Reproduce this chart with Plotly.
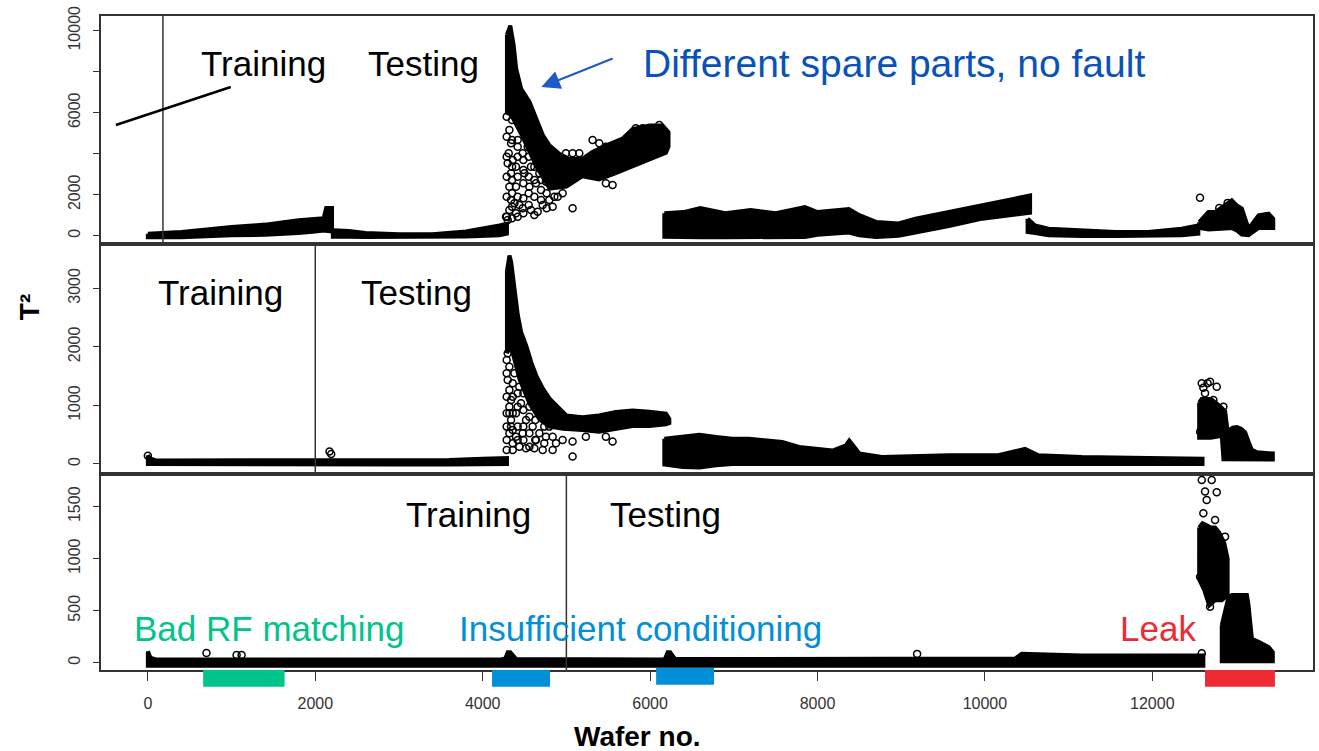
import plotly.graph_objects as go
from plotly.subplots import make_subplots

# ---------------- data ----------------
# x = wafer number, y = T^2.  Dense bands are given as upper/lower envelopes.
# TOP panel
top_a_x = [0, 400, 1000, 1400, 1800, 2000, 2100, 2130, 2200]
top_a_hi = [100, 180, 420, 540, 750, 830, 850, 1350, 1350]
top_a_lo = [-80, -80, 20, 40, 130, 200, 250, 250, 200]

top_b_x = [2210, 2400, 2600, 3000, 3400, 3800, 4200, 4290]
top_b_hi = [260, 230, 130, 65, 65, 210, 500, 580]
top_b_lo = [-50, -50, -60, -60, -60, -40, 20, 100]

top_c_ux = [4290, 4330, 4370, 4400, 4460, 4560, 4640, 4720, 4800, 4915, 5030, 5190, 5310, 5470, 5670, 5790, 5990, 6150, 6220]
top_c_uy = [9800, 10250, 9300, 8150, 7170, 6520, 5700, 4900, 4400, 4000, 3750, 3750, 4080, 4400, 4730, 5200, 5380, 5380, 5050]
top_c_lx = [4290, 4340, 4480, 4640, 4800, 5000, 5190, 5390, 5590, 5790, 5990, 6190, 6220]
top_c_ly = [6000, 5900, 4800, 3400, 2300, 2400, 2900, 2750, 3050, 3400, 3700, 4050, 4350]

top_d_x = [6170, 6400, 6600, 6900, 7200, 7500, 7850, 8000, 8375, 8500, 8700, 8970, 9170, 9570, 9970, 10280, 10540]
top_d_hi = [1100, 1150, 1350, 1100, 1250, 1100, 1400, 1150, 1300, 1000, 670, 600, 830, 1150, 1480, 1720, 1960]
top_d_lo = [-50, -80, -80, -80, -80, -80, -60, 50, 150, 20, -60, 0, 180, 470, 830, 990, 1120]

top_e_x = [10510, 10600, 10760, 11160, 11560, 11950, 12350, 12550]
top_e_hi = [830, 500, 340, 260, 180, 180, 340, 500]
top_e_lo = [180, 130, 20, -20, -20, -20, 20, 100]

top_f_x = [12560, 12670, 12750, 12870, 12950, 13010, 13070, 13110, 13150, 13270, 13390, 13445]
top_f_hi = [660, 1150, 1150, 1480, 1720, 1480, 1320, 830, 340, 990, 1070, 830]
top_f_lo = [380, 300, 300, 350, 380, 250, 50, 20, 20, 380, 380, 380]

top_pts_x = [4331, 4319, 4339, 4311, 4359, 4299, 4398, 4339, 4319, 4398, 4339, 4379, 4438, 4319, 4398,
             4478, 4577, 4657, 4717, 4796, 4836, 4896, 5074, 4558, 4637, 4498, 4577, 4677, 4756, 4796,
             4478, 4538, 4418, 4458, 4518, 4637, 4717, 4995, 5074, 5154, 5472, 5552, 5313, 5393, 5472,
             5830, 5910, 6109, 4279, 4299, 12570, 12800, 12900,
             4287, 4287, 4287, 4287, 4287, 4287, 4351, 4351, 4351, 4351, 4351, 4351, 4351,
             4418, 4418, 4418, 4418, 4418, 4486, 4486, 4486, 4486, 4486, 4550, 4550, 4550, 4550,
             4617, 4617, 4617, 4617, 4697, 4697, 4697, 4764, 4764, 4856, 4955]
top_pts_y = [6131, 5156, 4505, 4017, 3692, 3530, 3367, 3042, 2391, 2391, 1741, 1578, 1497, 1253, 1091,
             1335, 1253, 1172, 1497, 1741, 1416, 1904, 1335, 2391, 2554, 3042, 3367, 3042, 2636, 3205,
             4017, 4343, 4668, 5318, 5156, 3855, 3692, 4017, 4017, 4017, 2554, 2473, 4668, 4505, 4343,
             5237, 5237, 5400, 928, 766, 1855, 1350, 1600,
             5806, 4830, 3855, 2879, 1904, 928, 5643, 4668, 3367, 2717, 2066, 1416, 847,
             4343, 3855, 2879, 1904, 928, 3692, 3205, 2554, 1822, 1091, 3855, 2879, 2066, 1497,
             3367, 2717, 1904, 1010, 2717, 2229, 1741, 2066, 1335, 1904, 2066]

# MIDDLE panel
mid_a_x = [0, 30, 100, 1000, 2000, 2150, 2200, 3000, 3600, 4000, 4290]
mid_a_hi = [150, 90, 60, 60, 60, 60, 60, 60, 70, 90, 100]
mid_a_lo = [0, -10, -10, -10, -10, -10, -10, -10, -10, -10, 0]

mid_b_ux = [4290, 4320, 4340, 4380, 4420, 4460, 4520, 4580, 4640, 4720, 4800, 4880, 4960, 5000, 5190, 5390, 5590, 5790, 5990, 6190, 6230]
mid_b_uy = [3300, 3560, 3450, 2990, 2540, 2250, 2020, 1740, 1510, 1285, 1115, 1000, 890, 830, 800, 830, 890, 915, 890, 860, 770]
mid_b_lx = [4290, 4340, 4440, 4560, 4680, 4800, 4960, 5190, 5390, 5590, 5790, 5990, 6190, 6230]
mid_b_ly = [1900, 2000, 1450, 1030, 760, 640, 600, 580, 550, 600, 650, 650, 680, 700]

mid_c_x = [6170, 6390, 6590, 6790, 6980, 7180, 7380, 7580, 7780, 7980, 8180, 8340, 8380, 8420, 8500, 8770, 9570, 10160, 10480, 10640, 11160, 11950, 12600]
mid_c_hi = [430, 460, 500, 460, 430, 430, 400, 375, 290, 260, 230, 320, 400, 330, 180, 120, 150, 150, 260, 150, 120, 100, 90]
mid_c_lo = [-10, -50, -60, -20, 0, 0, 0, 0, 0, 0, 0, 0, 0, 0, 0, 0, 0, 0, 0, 0, 0, 0, 0]

mid_d_ux = [12560, 12590, 12700, 12800, 12870, 12900, 12960, 13010, 13060, 13110, 13150, 13190, 13250, 13350, 13440]
mid_d_uy = [1050, 1110, 1110, 1000, 900, 560, 620, 630, 600, 540, 380, 240, 200, 190, 180]
mid_d_lx = [12560, 12700, 12830, 12850, 12900, 13000, 13100, 13200, 13300, 13440]
mid_d_ly = [450, 450, 480, 80, 75, 75, 75, 75, 75, 75]

mid_pts_x = [0, 2170, 2190, 4299, 4319, 4299, 4319, 4339, 4319, 4339, 4319, 4359, 4438, 4518, 4617, 4717,
             4836, 4876, 5074, 5074, 4398, 4458, 4558, 4518, 4597, 4677, 4756, 4796, 4438, 4498, 4379,
             5552, 5472, 5233, 4319, 4339, 4398, 4478, 4637,
             12571, 12591, 12690, 12770, 12630, 12730, 12849, 12610, 12660,
             4287, 4287, 4287, 4287, 4287, 4287, 4287, 4359, 4359, 4359, 4359, 4359,
             4418, 4418, 4418, 4418, 4486, 4486, 4486, 4486, 4558, 4558, 4558,
             4629, 4629, 4736, 4736, 4836, 4955]
mid_pts_y = [140, 215, 170, 1889, 1662, 1434, 1264, 1093, 979, 751, 524, 353, 296, 268, 268, 239,
             239, 353, 382, 126, 865, 1036, 979, 751, 638, 524, 467, 638, 1320, 1434, 1548,
             382, 467, 467, 865, 638, 467, 524, 410,
             552, 1377, 1406, 1320, 1207, 1093, 979, 1300, 1380,
             1776, 1548, 1150, 865, 638, 410, 239, 1377, 1150, 865, 581, 239,
             1207, 979, 638, 410, 1207, 922, 638, 410, 808, 524, 296,
             751, 410, 638, 353, 467, 410]

# BOTTOM panel
bot_a_x = [0, 30, 100, 4200, 4270, 4300, 4330, 4400, 6150, 6180, 6210, 6240, 6300, 10360, 10440, 11160, 12610]
bot_a_hi = [110, 50, 30, 30, 40, 100, 100, 35, 30, 40, 100, 100, 35, 40, 85, 70, 70]
bot_a_lo = [-30, -30, -30, -30, -30, -30, -30, -30, -30, -30, -30, -30, -30, -30, -30, -30, -30]

bot_b_ux = [12560, 12600, 12650, 12700, 12750, 12800, 12860, 12900]
bot_b_uy = [1300, 1340, 1320, 1300, 1300, 1250, 1150, 1000]
bot_b_lx = [12560, 12620, 12680, 12750, 12830, 12900]
bot_b_ly = [800, 700, 550, 600, 600, 650]

bot_c_ux = [12830, 12860, 12910, 12950, 13130, 13150, 13190, 13270, 13390, 13440]
bot_c_uy = [360, 450, 630, 650, 650, 550, 230, 200, 150, 100]
bot_c_lx = [12830, 13440]
bot_c_ly = [15, 15]

bot_pts_x = [700, 1060, 1120, 9190, 12591, 12591, 12710, 12630, 12770, 12650, 12610, 12750, 12869, 12571, 12670, 12690, 12591]
bot_pts_y = [93, 74, 74, 85, 90, 1757, 1757, 1645, 1638, 1564, 1436, 1372, 1212, 827, 715, 539, 988]

# separators between training and testing data
split_top, split_mid, split_bot = 180, 2000, 5000

x_ticks = [0, 2000, 4000, 6000, 8000, 10000, 12000]
x_ticktext = ["0", "2000", "4000", "6000", "8000", "10000", "12000"]
top_ticks = [0, 2000, 4000, 6000, 8000, 10000]
top_ticktext = ["0", "2000", "", "6000", "", "10000"]
mid_ticks = [0, 1000, 2000, 3000]
bot_ticks = [0, 500, 1000, 1500]

# fault bars under the axis: (start, end, color)
fault_bars = [(660, 1633, "#00C48C"), (4112, 4804, "#0090D8"), (6072, 6764, "#0090D8"), (12630, 13465, "#EE2A33")]

# ---------------- figure ----------------
fig = make_subplots(rows=3, cols=1, shared_xaxes=True, vertical_spacing=0)


def band(row, xu, yu, xl=None, yl=None):
    if xl is None:
        xl = xu
    xs = list(xu) + list(xl)[::-1] + [xu[0]]
    ys = list(yu) + list(yl)[::-1] + [yu[0]]
    fig.add_trace(go.Scatter(x=xs, y=ys, mode="lines", fill="toself", fillcolor="black",
                             line=dict(color="black", width=4), hoverinfo="skip"), row=row, col=1)


def pts(row, xs, ys):
    fig.add_trace(go.Scatter(x=xs, y=ys, mode="markers",
                             marker=dict(symbol="circle-open", size=7, color="black", line=dict(width=1.5))),
                  row=row, col=1)


band(1, top_a_x, top_a_hi, top_a_x, top_a_lo)
band(1, top_b_x, top_b_hi, top_b_x, top_b_lo)
band(1, top_c_ux, top_c_uy, top_c_lx, top_c_ly)
band(1, top_d_x, top_d_hi, top_d_x, top_d_lo)
band(1, top_e_x, top_e_hi, top_e_x, top_e_lo)
band(1, top_f_x, top_f_hi, top_f_x, top_f_lo)
pts(1, top_pts_x, top_pts_y)

band(2, mid_a_x, mid_a_hi, mid_a_x, mid_a_lo)
band(2, mid_b_ux, mid_b_uy, mid_b_lx, mid_b_ly)
band(2, mid_c_x, mid_c_hi, mid_c_x, mid_c_lo)
band(2, mid_d_ux, mid_d_uy, mid_d_lx, mid_d_ly)
pts(2, mid_pts_x, mid_pts_y)

band(3, bot_a_x, bot_a_hi, bot_a_x, bot_a_lo)
band(3, bot_b_ux, bot_b_uy, bot_b_lx, bot_b_ly)
band(3, bot_c_ux, bot_c_uy, bot_c_lx, bot_c_ly)
pts(3, bot_pts_x, bot_pts_y)

axis_line = dict(showline=True, mirror=True, linecolor="#333", linewidth=1.5,
                 showgrid=False, zeroline=False)
tick_font = dict(family="Liberation Sans, Arial, sans-serif", size=16, color="#333")

for i in (1, 2, 3):
    fig.update_xaxes(range=[-560, 13920], **axis_line, row=i, col=1)
fig.update_xaxes(showticklabels=False, ticks="", row=1, col=1)
fig.update_xaxes(showticklabels=False, ticks="", row=2, col=1)
fig.update_xaxes(ticks="outside", ticklen=9, tickwidth=1.2, tickcolor="#333", tickvals=x_ticks,
                 ticktext=x_ticktext, tickfont=tick_font, ticklabelstandoff=9, row=3, col=1)

ycommon = dict(ticks="outside", ticklen=6, tickwidth=1.2, tickcolor="#333", tickangle=-90,
               tickfont=tick_font, ticklabelstandoff=7, **axis_line)
fig.update_yaxes(range=[-405, 10717], tickvals=top_ticks, ticktext=top_ticktext, domain=[0.6514, 1.0],
                 row=1, col=1, **ycommon)
fig.update_yaxes(range=[-171, 3757], tickvals=mid_ticks, domain=[0.2997, 0.6514], row=2, col=1, **ycommon)
fig.update_yaxes(range=[-70, 1814], tickvals=bot_ticks, domain=[0.0, 0.2997], row=3, col=1, **ycommon)

shapes = []
for xv, ax in ((split_top, "x"), (split_mid, "x2"), (split_bot, "x3")):
    yref = "y" if ax == "x" else "y" + ax[1:]
    shapes.append(dict(type="line", xref=ax, yref=yref + " domain", x0=xv, x1=xv, y0=0, y1=1,
                       line=dict(color="#333", width=1.5)))
# pointer line from "Training" label in the top panel
shapes.append(dict(type="line", xref="x", yref="y", x0=-382, y0=5400, x1=990, y1=7254,
                   line=dict(color="black", width=2.5)))
for x0, x1, col in fault_bars:
    y0, y1 = (-0.0255, 0.0) if x0 != 6072 else (-0.0225, 0.003)
    shapes.append(dict(type="rect", xref="x3", yref="paper", x0=x0, x1=x1, y0=y0, y1=y1,
                       fillcolor=col, line=dict(width=0), layer="above"))
fig.update_layout(shapes=shapes)

big = "Liberation Sans, Arial, sans-serif"


def label(text, x, y, xref, yref, color="black", size=35):
    fig.add_annotation(text=text, x=x, y=y, xref=xref, yref=yref, showarrow=False,
                       xanchor="center", yanchor="middle", font=dict(family=big, size=size, color=color))


label("Training", 1384, 8400, "x", "y")
label("Testing", 3293, 8400, "x", "y")
label("Different spare parts, no fault", 8912, 8400, "x", "y", color="#0A52B8", size=39)
label("Training", 871, 2930, "x2", "y2")
label("Testing", 3209, 2930, "x2", "y2")
label("Training", 3830, 1420, "x3", "y3")
label("Testing", 6180, 1420, "x3", "y3")
label("Bad RF matching", 1444, 325, "x3", "y3", color="#00C48C")
label("Insufficient conditioning", 5881, 325, "x3", "y3", color="#0090D8")
label("Leak", 12073, 325, "x3", "y3", color="#EE2A33")

fig.add_annotation(x=4700, y=7254, ax=5571, ay=8668, xref="x", yref="y", axref="x", ayref="y",
                   text="", showarrow=True, arrowhead=2, arrowsize=1.7, arrowwidth=2.2,
                   arrowcolor="#1F5BC6")

fig.add_annotation(text="<b>T²</b>", x=-0.0593, y=0.555, xref="paper", yref="paper", textangle=-90,
                   showarrow=False, xanchor="center", yanchor="middle",
                   font=dict(family=big, size=28, color="black"))
fig.add_annotation(text="<b>Wafer no.</b>", x=0.4423, y=-0.1024, xref="paper", yref="paper",
                   showarrow=False, xanchor="center", yanchor="middle",
                   font=dict(family=big, size=28, color="black"))

fig.update_layout(width=1319, height=751, margin=dict(l=101, r=4, t=16, b=81),
                  plot_bgcolor="white", paper_bgcolor="white", showlegend=False,
                  font=dict(family=big))

fig.write_html("out.html", config={"displayModeBar": False},
               post_script="document.body.style.margin='0';")
